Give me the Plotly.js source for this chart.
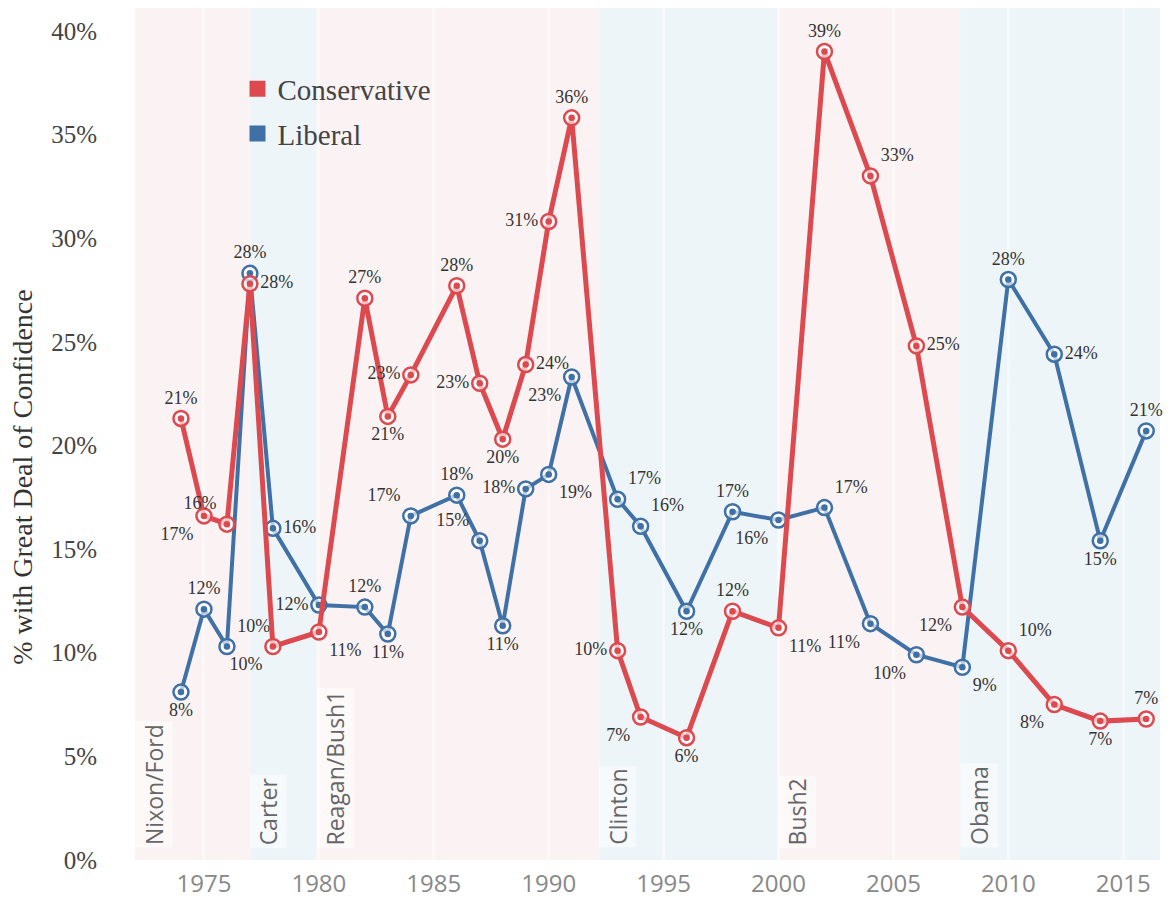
<!DOCTYPE html>
<html>
<head>
<meta charset="utf-8">
<script src="https://cdn.plot.ly/plotly-3.0.1.min.js"></script>
<style>html,body{margin:0;padding:0;background:#fff;}</style>
</head>
<body>
<div id="chart" style="width:1175px;height:906px;"></div>
<script>
// ---- data ----
const years = [1974,1975,1976,1977,1978,1980,1982,1983,1984,1986,1987,1988,1989,1990,1991,1993,1994,1996,1998,2000,2002,2004,2006,2008,2010,2012,2014,2016];
const conservative = [21.3,16.6,16.2,27.8,10.3,11.0,27.1,21.4,23.4,27.7,23.0,20.3,23.9,30.8,35.8,10.1,6.9,5.9,12.0,11.2,39.0,33.0,24.8,12.2,10.1,7.5,6.7,6.8];
const liberal = [8.1,12.1,10.3,28.3,16.0,12.3,12.2,10.9,16.6,17.6,15.4,11.3,17.9,18.6,23.3,17.4,16.1,12.0,16.8,16.4,17.0,11.4,9.9,9.3,28.0,24.4,15.4,20.7];
const conservativeLabelPos = ['top center','bottom left','top left','middle right','bottom left','bottom right','top center','bottom center','middle left','top center','middle left','bottom center','middle right','middle left','top center','middle left','bottom left','bottom center','top center','bottom right','top center','top right','middle right','bottom left','top right','bottom left','bottom center','top center'];
const liberalLabelPos = ['bottom center','top center','top right','top center','middle right','middle left','top center','bottom center','top left','top center','top left','bottom center','middle left','bottom right','bottom left','top right','top right','bottom center','top center','bottom left','top right','bottom left','bottom left','bottom right','top center','middle right','bottom center','top center'];
const presidents = ['Nixon/Ford','Carter','Reagan/Bush1','Clinton','Bush2','Obama'];
const termStart = [1972, 1977, 1979.9, 1992.2, 2000, 2007.9];
const termEnd = [1977, 1979.9, 1992.2, 2000, 2007.9, 2016.6];
const termParty = ['R','D','R','D','R','D'];
const yTicks = [0,5,10,15,20,25,30,35,40];
const xTicks = [1975,1980,1985,1990,1995,2000,2005,2010,2015];

// ---- styling ----
const RED = '#dc4a50';
const BLUE = '#3f70a6';
const SERIF = 'Liberation Serif, Times New Roman, serif';
const SANS = 'Open Sans, Noto Sans, sans-serif';

function seriesTraces(name, vals, color, width, pos) {
  return [
    {
      x: years, y: vals, name: name, type: 'scatter', mode: 'lines+markers+text',
      showlegend: false, legendgroup: name,
      line: {color: color, width: width},
      marker: {symbol: 'circle', size: 15, color: 'rgba(255,255,255,0.65)', line: {color: color, width: 2.5}},
      text: vals.map(v => Math.round(v) + '%'),
      textposition: pos,
      textfont: {family: SERIF, size: 18, color: '#333'},
      cliponaxis: false,
      hoverinfo: 'x+y'
    },
    {
      x: years, y: vals, type: 'scatter', mode: 'markers', showlegend: false, legendgroup: name,
      marker: {symbol: 'circle', size: 6.5, color: color}, hoverinfo: 'skip', cliponaxis: false
    }
  ];
}

const traces = [].concat(
  seriesTraces('Liberal', liberal, BLUE, 4, liberalLabelPos),
  seriesTraces('Conservative', conservative, RED, 5, conservativeLabelPos),
  [
    {x: [null], y: [null], type: 'scatter', mode: 'markers', name: 'Conservative', legendgroup: 'Conservative',
     marker: {symbol: 'square', size: 20, color: RED}},
    {x: [null], y: [null], type: 'scatter', mode: 'markers', name: 'Liberal', legendgroup: 'Liberal',
     marker: {symbol: 'square', size: 20, color: BLUE}}
  ]
);

const shapes = presidents.map((p, i) => ({
  type: 'rect', xref: 'x', yref: 'paper', x0: termStart[i], x1: termEnd[i], y0: 0, y1: 1,
  fillcolor: termParty[i] === 'R' ? '#fbf3f3' : '#eef5f9', line: {width: 0}, layer: 'below'
}));

const annotations = presidents.map((p, i) => ({
  text: p, xref: 'x', yref: 'paper', x: termStart[i] + 0.8, y: 0.014,
  xanchor: 'center', yanchor: 'bottom', textangle: -90, showarrow: false,
  font: {family: SANS, size: 23, color: '#666'},
  bgcolor: 'rgba(255,255,255,0.5)', borderpad: 2
}));
annotations.push({
  text: '% with Great Deal of Confidence', xref: 'paper', yref: 'paper',
  x: -0.11, y: 0.45, xanchor: 'center', yanchor: 'middle', textangle: -90, showarrow: false,
  font: {family: SERIF, size: 28, color: '#333'}
});

const layout = {
  width: 1175, height: 906,
  margin: {l: 135, r: 15, t: 8, b: 46},
  paper_bgcolor: '#ffffff', plot_bgcolor: '#ffffff',
  showlegend: true,
  legend: {x: 0.1, y: 0.935, xanchor: 'left', yanchor: 'top', bgcolor: 'rgba(0,0,0,0)',
           font: {family: SERIF, size: 29, color: '#444'}, tracegroupgap: 4, itemclick: false},
  xaxis: {
    range: [1972, 2016.6], tickmode: 'array', tickvals: xTicks, ticktext: xTicks.map(String),
    ticks: 'outside', ticklen: 2, tickcolor: 'rgba(0,0,0,0)',
    tickfont: {family: SANS, size: 24, color: '#888'},
    showgrid: true, gridcolor: 'rgba(255,255,255,0.4)', gridwidth: 3,
    zeroline: false, showline: false, fixedrange: true
  },
  yaxis: {
    range: [0, 41.1], tickmode: 'array', tickvals: yTicks, ticktext: yTicks.map(v => v + '%'),
    ticks: 'outside', ticklen: 32, tickcolor: 'rgba(0,0,0,0)',
    tickfont: {family: SERIF, size: 25, color: '#444'},
    showgrid: false, zeroline: false, showline: false, fixedrange: true
  },
  shapes: shapes,
  annotations: annotations
};

Plotly.newPlot('chart', traces, layout, {displayModeBar: false, staticPlot: true});
</script>
</body>
</html>
